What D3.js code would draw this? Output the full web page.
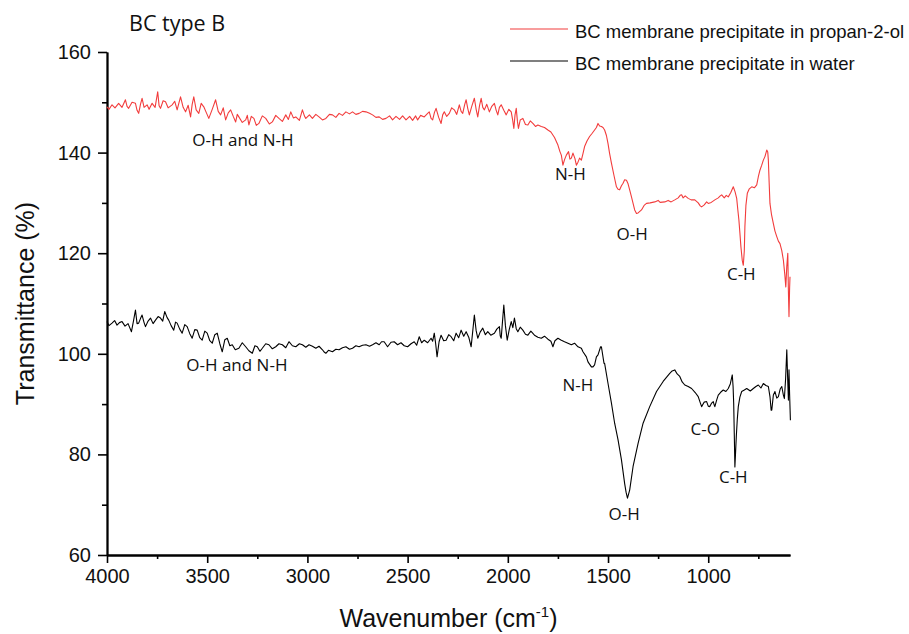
<!DOCTYPE html>
<html>
<head>
<meta charset="utf-8">
<script src="https://cdn.jsdelivr.net/npm/d3@7"></script>
<style>
  body { margin: 0; background: #fff; }
  .tick text { font-family: 'Liberation Sans', Arial, sans-serif; }
</style>
</head>
<body>
<div class="chart"></div>
<script>
// spectra: [wavenumber, transmittance]
const propanolSeries = [
  [4000,149.1],[3990,148.6],[3975,149.5],[3960,148.9],[3942,149.8],[3925,149.0],[3908,150.5],[3900,149.2],
  [3892,148.8],[3875,150.0],[3858,149.8],[3850,148.4],[3842,147.8],[3833,149.6],[3825,150.8],[3815,149.0],
  [3800,149.5],[3790,148.6],[3775,149.8],[3760,149.0],[3747,152.1],[3740,149.3],[3733,148.8],[3720,150.3],
  [3708,150.1],[3695,148.9],[3675,149.5],[3662,150.2],[3650,148.5],[3641,149.9],[3633,151.1],[3620,149.0],
  [3608,148.1],[3595,149.4],[3583,147.1],[3575,149.6],[3567,151.1],[3555,148.5],[3542,147.8],[3530,149.8],
  [3517,149.1],[3505,148.0],[3492,146.8],[3475,148.6],[3458,150.5],[3445,148.2],[3433,147.5],[3420,148.9],
  [3408,146.5],[3395,147.9],[3383,148.5],[3370,147.2],[3358,146.1],[3350,147.6],[3342,147.1],[3325,146.0],
  [3308,146.5],[3300,147.4],[3292,145.5],[3280,147.2],[3267,146.8],[3255,145.4],[3242,145.8],[3225,147.3],
  [3208,146.8],[3190,145.7],[3175,146.1],[3158,147.4],[3142,146.8],[3125,146.2],[3108,147.5],[3095,146.6],
  [3083,148.1],[3070,146.9],[3058,147.1],[3040,146.4],[3025,148.5],[3015,147.3],[3008,146.8],[2990,147.5],
  [2975,146.8],[2958,147.6],[2942,147.1],[2925,146.5],[2908,146.8],[2890,147.6],[2875,147.5],[2858,147.0],
  [2842,147.8],[2825,147.4],[2808,148.1],[2790,147.7],[2775,148.1],[2758,147.6],[2742,147.8],[2725,148.2],
  [2708,148.1],[2690,147.8],[2675,147.5],[2658,147.0],[2642,147.1],[2625,146.6],[2608,146.8],[2590,147.3],
  [2575,146.5],[2558,147.2],[2540,146.6],[2525,147.3],[2508,146.5],[2490,147.2],[2475,146.4],[2460,147.3],
  [2450,146.5],[2435,147.4],[2417,147.1],[2400,147.8],[2392,148.1],[2383,146.8],[2375,146.5],[2366,148.0],
  [2358,148.8],[2345,147.0],[2333,145.8],[2325,147.5],[2317,148.1],[2305,147.2],[2292,147.8],[2280,148.9],
  [2267,148.5],[2255,147.6],[2242,149.5],[2233,148.2],[2225,147.8],[2215,149.6],[2208,150.5],[2200,148.8],
  [2192,147.5],[2180,149.2],[2167,150.8],[2158,148.6],[2150,147.1],[2141,149.4],[2133,150.8],[2125,149.0],
  [2117,148.5],[2105,149.6],[2092,148.1],[2080,149.2],[2067,149.8],[2058,148.4],[2050,147.5],[2042,149.0],
  [2033,149.5],[2020,148.4],[2008,147.5],[1995,148.6],[1983,148.1],[1976,146.5],[1970,144.8],[1964,147.5],
  [1958,148.8],[1952,146.2],[1947,144.8],[1938,146.5],[1925,146.8],[1912,145.6],[1900,145.5],[1888,146.3],
  [1875,145.8],[1862,145.2],[1850,145.5],[1833,145.2],[1817,145.0],[1800,144.5],[1785,144.1],[1767,143.0],
  [1750,141.5],[1740,140.2],[1733,139.5],[1725,137.5],[1717,138.6],[1708,139.5],[1697,140.2],[1690,138.7],
  [1683,138.9],[1675,139.9],[1665,138.8],[1658,137.5],[1650,138.1],[1642,138.9],[1633,138.5],[1625,139.8],
  [1617,141.2],[1605,142.3],[1592,143.2],[1580,143.8],[1567,144.5],[1558,145.0],[1550,145.8],[1542,145.3],
  [1533,145.2],[1525,145.0],[1517,144.5],[1508,143.4],[1500,141.8],[1492,139.8],[1483,137.9],[1470,135.4],
  [1458,133.2],[1450,132.7],[1442,132.6],[1433,133.4],[1425,133.9],[1417,134.6],[1408,134.5],[1400,133.8],
  [1392,132.6],[1383,131.2],[1375,129.9],[1367,128.6],[1358,127.9],[1350,128.0],[1333,128.6],[1320,129.5],
  [1308,129.9],[1290,130.0],[1267,130.2],[1250,130.5],[1240,130.1],[1217,130.2],[1200,130.5],[1185,130.2],
  [1167,130.6],[1150,131.0],[1140,131.5],[1133,131.6],[1125,131.0],[1115,131.4],[1100,130.9],[1085,130.6],
  [1067,130.6],[1050,130.0],[1040,129.4],[1033,129.2],[1020,129.6],[1008,130.2],[1000,129.9],[985,130.1],
  [967,130.6],[950,131.0],[940,131.4],[933,131.6],[920,131.0],[910,131.5],[900,131.2],[888,132.0],
  [875,133.2],[866,132.2],[858,130.9],[852,128.5],[847,126.6],[842,124.0],[837,121.3],[830,118.5],
  [825,117.6],[820,120.5],[817,125.3],[812,129.5],[805,131.9],[795,132.8],[783,133.2],[770,133.0],
  [758,133.6],[750,135.2],[742,136.5],[733,137.5],[725,138.5],[717,139.2],[708,140.5],[703,140.1],
  [700,138.5],[696,134.0],[692,129.9],[684,127.6],[675,125.9],[667,124.4],[658,123.3],[650,122.4],
  [642,121.9],[633,120.5],[625,118.6],[618,115.8],[613,113.3],[608,117.4],[603,120.0],[600,112.5],
  [597,107.4],[594,113.0],[592,115.3]
];

const waterSeries = [
  [4000,106.4],[3990,105.6],[3975,106.1],[3962,106.6],[3950,105.7],[3938,106.2],[3925,106.4],[3910,105.5],
  [3895,106.0],[3878,104.4],[3868,106.5],[3858,108.7],[3850,106.0],[3842,106.1],[3833,107.0],[3825,107.7],
  [3815,106.2],[3808,105.4],[3795,106.5],[3783,107.1],[3770,106.0],[3758,106.7],[3745,107.4],[3733,107.1],
  [3722,106.5],[3712,108.4],[3700,107.2],[3692,106.7],[3680,105.6],[3667,104.7],[3658,106.3],[3650,106.1],
  [3637,104.9],[3625,104.1],[3612,105.8],[3600,105.4],[3587,104.0],[3575,103.1],[3562,104.8],[3550,104.7],
  [3537,103.2],[3525,102.7],[3512,104.5],[3500,104.1],[3487,102.6],[3475,102.1],[3462,103.8],[3450,104.1],
  [3437,102.0],[3425,100.4],[3412,102.8],[3400,103.1],[3387,101.6],[3375,101.8],[3360,100.8],[3342,101.1],
  [3325,102.2],[3308,101.4],[3292,100.6],[3275,100.1],[3262,101.6],[3250,101.4],[3237,100.5],[3225,101.1],
  [3208,102.0],[3192,101.8],[3175,101.0],[3158,101.4],[3142,102.0],[3125,101.8],[3108,101.2],[3092,102.4],
  [3075,101.6],[3058,101.4],[3040,102.0],[3025,101.8],[3008,101.3],[2992,101.8],[2975,101.5],[2958,101.1],
  [2942,101.5],[2925,100.8],[2915,100.3],[2908,100.1],[2895,100.7],[2875,100.4],[2858,100.9],[2842,100.8],
  [2825,101.2],[2808,101.4],[2790,100.9],[2775,101.1],[2758,101.6],[2742,101.4],[2725,101.7],[2708,101.8],
  [2690,101.5],[2675,101.8],[2658,102.2],[2642,101.8],[2630,102.4],[2617,102.4],[2600,101.4],[2583,102.3],
  [2567,102.4],[2550,101.8],[2533,102.2],[2517,101.6],[2500,101.4],[2483,102.0],[2467,102.4],[2455,101.7],
  [2442,103.4],[2430,102.2],[2417,102.7],[2400,102.2],[2383,103.1],[2375,102.5],[2367,104.1],[2360,102.0],
  [2353,99.4],[2343,102.4],[2333,103.7],[2320,102.6],[2308,102.7],[2295,103.8],[2283,103.4],[2270,102.6],
  [2258,104.1],[2245,103.2],[2233,104.7],[2220,103.5],[2208,104.4],[2195,103.3],[2183,101.4],[2175,104.5],
  [2167,107.7],[2158,104.6],[2150,103.1],[2138,104.3],[2125,105.1],[2112,103.8],[2100,104.4],[2085,103.7],
  [2067,104.1],[2055,104.9],[2042,105.4],[2038,103.6],[2033,103.1],[2027,106.2],[2020,109.7],[2012,105.6],
  [2003,102.7],[1993,104.8],[1983,106.4],[1975,105.2],[1967,107.1],[1958,105.0],[1950,104.4],[1938,105.3],
  [1925,104.7],[1912,103.9],[1900,103.7],[1885,104.5],[1867,103.7],[1850,103.3],[1833,103.1],[1817,103.5],
  [1800,102.9],[1785,102.5],[1775,101.4],[1765,102.6],[1750,103.1],[1733,102.7],[1717,102.4],[1700,102.1],
  [1683,101.8],[1667,102.1],[1650,101.4],[1633,101.1],[1625,100.4],[1608,99.4],[1600,98.4],[1583,97.4],
  [1575,97.4],[1567,97.8],[1558,99.4],[1550,99.8],[1537,101.4],[1533,101.4],[1520,98.1],[1517,98.1],
  [1500,94.1],[1483,90.2],[1467,86.2],[1450,82.9],[1433,78.9],[1417,74.2],[1410,72.5],[1403,71.3],
  [1392,72.9],[1375,77.6],[1350,82.2],[1325,86.2],[1292,89.5],[1258,92.5],[1225,94.5],[1192,96.1],
  [1180,96.6],[1167,96.8],[1155,96.0],[1142,95.5],[1130,94.4],[1117,93.8],[1100,93.5],[1083,93.1],
  [1065,92.3],[1050,91.5],[1040,90.3],[1033,89.5],[1020,90.4],[1008,90.5],[1000,89.6],[992,89.5],
  [983,90.2],[975,90.5],[970,89.8],[967,89.5],[958,90.8],[950,91.8],[937,92.4],[925,92.8],
  [912,92.5],[900,93.1],[890,94.0],[880,95.8],[876,93.5],[873,90.2],[870,84.0],[867,77.5],
  [864,80.0],[860,83.5],[855,87.0],[850,89.5],[842,91.4],[833,92.5],[820,92.8],[808,93.1],
  [790,92.6],[775,93.1],[762,93.5],[750,93.8],[737,93.2],[725,94.1],[712,93.7],[700,93.5],
  [692,91.5],[686,88.8],[683,88.8],[675,91.8],[667,92.5],[658,91.2],[650,91.5],[641,93.0],
  [633,93.5],[625,91.8],[620,91.1],[614,95.0],[608,100.8],[604,95.5],[600,90.8],[597,96.8],
  [594,92.0],[590,86.8]
];

const xMajorTicks = [4000, 3500, 3000, 2500, 2000, 1500, 1000];
const xMinorTicks = [3750, 3250, 2750, 2250, 1750, 1250, 750];
const yMajorTicks = [60, 80, 100, 120, 140, 160];
const yMinorTicks = [70, 90, 110, 130, 150];

const legendLabels = ['BC membrane precipitate in propan-2-ol', 'BC membrane precipitate in water'];
const seriesColors = ['#f23c3c', '#000000'];

// band labels: [text, wavenumber, transmittance]
const propanolLabels = [
  ['O-H and N-H', 3322, 141.3],
  ['N-H', 1688, 134.6],
  ['O-H', 1380, 122.6],
  ['C-H', 835, 114.6]
];
const waterLabels = [
  ['O-H and N-H', 3352, 96.5],
  ['N-H', 1650, 92.7],
  ['C-O', 1015, 83.8],
  ['C-H', 875, 74.4],
  ['O-H', 1420, 67.0]
];

const W = 909, H = 634;
const margin = { top: 52, right: 119, bottom: 79, left: 107 };
const width = W - margin.left - margin.right;
const height = H - margin.top - margin.bottom;

const svg = d3.select('.chart')
  .append('svg')
  .attr('width', W)
  .attr('height', H);

const g = svg.append('g')
  .attr('transform', `translate(${margin.left},${margin.top})`);

const x = d3.scaleLinear().domain([4000, 592]).range([0, width]);
const y = d3.scaleLinear().domain([60, 160]).range([height, 0]);

// minor ticks first, majors on top
g.append('g')
  .attr('transform', `translate(0,${height})`)
  .call(d3.axisBottom(x).tickValues(xMinorTicks).tickSize(4).tickSizeOuter(0).tickFormat(''));
g.append('g')
  .call(d3.axisLeft(y).tickValues(yMinorTicks).tickSize(5).tickSizeOuter(0).tickFormat(''));

const xAxis = g.append('g')
  .attr('transform', `translate(0,${height})`)
  .call(d3.axisBottom(x).tickValues(xMajorTicks).tickSize(8).tickPadding(6).tickSizeOuter(0).tickFormat(d3.format('d')));
const yAxis = g.append('g')
  .call(d3.axisLeft(y).tickValues(yMajorTicks).tickSize(9).tickPadding(7).tickSizeOuter(0));

g.selectAll('.domain').attr('stroke', '#000').attr('stroke-width', 1.8);
g.selectAll('.tick line').attr('stroke', '#000').attr('stroke-width', 1.6);
xAxis.selectAll('text').attr('font-size', 20).attr('fill', '#111');
yAxis.selectAll('text').attr('font-size', 20).attr('fill', '#111');

const line = d3.line()
  .x(d => x(d[0]))
  .y(d => y(d[1]));

[propanolSeries, waterSeries].forEach((s, i) => {
  g.append('path')
    .datum(s)
    .attr('fill', 'none')
    .attr('stroke', seriesColors[i])
    .attr('stroke-width', 1.1)
    .attr('stroke-linejoin', 'round')
    .attr('d', line);
});

const labelFont = "'Open Sans', 'Noto Sans', sans-serif";
[...propanolLabels, ...waterLabels].forEach(([t, wn, v]) => {
  g.append('text')
    .attr('x', x(wn))
    .attr('y', y(v))
    .attr('text-anchor', 'middle')
    .attr('font-family', labelFont)
    .attr('font-size', 17)
    .attr('fill', '#111')
    .text(t);
});

// title
svg.append('text')
  .attr('x', 129)
  .attr('y', 31)
  .attr('font-family', labelFont)
  .attr('font-size', 21.5)
  .attr('fill', '#111')
  .text('BC type B');

// legend
const legend = svg.append('g');
legendLabels.forEach((t, i) => {
  const ly = 29 + i * 32;
  legend.append('line')
    .attr('x1', 510).attr('x2', 568)
    .attr('y1', ly).attr('y2', ly)
    .attr('stroke', seriesColors[i])
    .attr('stroke-width', 1.1);
  legend.append('text')
    .attr('x', 575)
    .attr('y', ly + 9)
    .attr('font-family', "'Liberation Sans', Arial, sans-serif")
    .attr('font-size', 18.5)
    .attr('fill', '#111')
    .text(t);
});

// axis titles
const xTitle = svg.append('text')
  .attr('x', margin.left + width / 2)
  .attr('y', 627)
  .attr('text-anchor', 'middle')
  .attr('font-family', "'Liberation Sans', Arial, sans-serif")
  .attr('font-size', 25)
  .attr('fill', '#111');
xTitle.append('tspan').text('Wavenumber (cm');
xTitle.append('tspan').attr('dy', -10).attr('font-size', 15).text('-1');
xTitle.append('tspan').attr('dy', 10).text(')');

svg.append('text')
  .attr('transform', `translate(34,${margin.top + height / 2}) rotate(-90)`)
  .attr('text-anchor', 'middle')
  .attr('font-family', "'Liberation Sans', Arial, sans-serif")
  .attr('font-size', 25)
  .attr('fill', '#111')
  .text('Transmittance (%)');
</script>
</body>
</html>
